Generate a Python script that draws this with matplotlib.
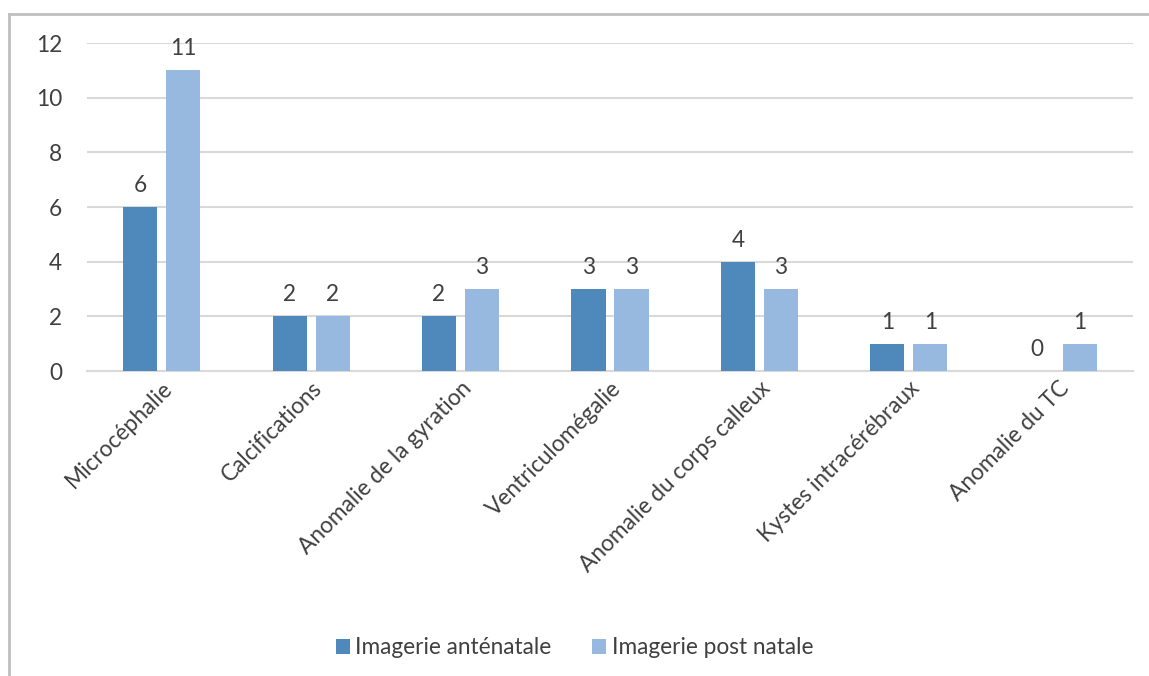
import matplotlib
matplotlib.use("Agg")
import matplotlib.pyplot as plt
from matplotlib.lines import Line2D
import numpy as np

categories = ["Microcéphalie", "Calcifications", "Anomalie de la gyration",
              "Ventriculomégalie", "Anomalie du corps calleux",
              "Kystes intracérébraux", "Anomalie du TC"]
antenatale = [6, 2, 2, 3, 4, 1, 0]
postnatale = [11, 2, 3, 3, 3, 1, 1]
series_names = ["Imagerie anténatale", "Imagerie post natale"]
yticks = [0, 2, 4, 6, 8, 10, 12]

plt.rcParams['font.family'] = ['Lato', 'DejaVu Sans']
txt = '#404040'
c1, c2 = '#4F88BB', '#97B9E0'
fs = 16.3

fig = plt.figure(figsize=(11.49, 6.76), dpi=100)
ax = fig.add_axes([87/1149, 1-371/676, (1133-87)/1149, (371-43)/676])

x = np.arange(len(categories))
w = 0.228
off = 0.144
b1 = ax.bar(x - off, antenatale, w, color=c1, label=series_names[0], zorder=3)
b2 = ax.bar(x + off, postnatale, w, color=c2, label=series_names[1], zorder=3)
for bars in (b1, b2):
    for r in bars:
        ax.annotate(f"{int(r.get_height())}", (r.get_x() + r.get_width()/2, r.get_height()),
                    xytext=(0, 8), textcoords='offset points', ha='center', va='bottom',
                    fontsize=fs, color=txt)

ax.set_xlim(-0.5, len(categories) - 0.5)
ax.set_ylim(0, 12)
ax.set_yticks(yticks)
ax.set_yticklabels([str(t) for t in yticks], fontsize=fs, color=txt)
ax.yaxis.grid(True, color='#D9D9D9', linewidth=1.5, zorder=0)
ax.set_axisbelow(True)
for s in ['top', 'right', 'left']:
    ax.spines[s].set_visible(False)
ax.spines['bottom'].set_color('#D9D9D9')
ax.spines['bottom'].set_linewidth(1.5)
ax.tick_params(axis='both', length=0)
ax.tick_params(axis='y', pad=18)
ax.set_xticks(x)
ax.set_xticklabels(categories, rotation=45, ha='right', rotation_mode='anchor',
                   fontsize=fs, color=txt)
ax.tick_params(axis='x', pad=5)

leg = fig.legend(handles=[b1, b2], labels=series_names, loc='center',
                 bbox_to_anchor=(0.5, 1-648/676), ncol=2, frameon=False,
                 fontsize=fs, handlelength=0.62, handleheight=0.62, handletextpad=0.25,
                 columnspacing=1.8, labelcolor=txt)

fig.add_artist(Line2D([9/1149, 9/1149], [0, 1-14/676], color='#BFBFBF', lw=2, transform=fig.transFigure))
fig.add_artist(Line2D([9/1149, 1], [1-14/676, 1-14/676], color='#BFBFBF', lw=2, transform=fig.transFigure))

fig.savefig("out.png", dpi=100)
